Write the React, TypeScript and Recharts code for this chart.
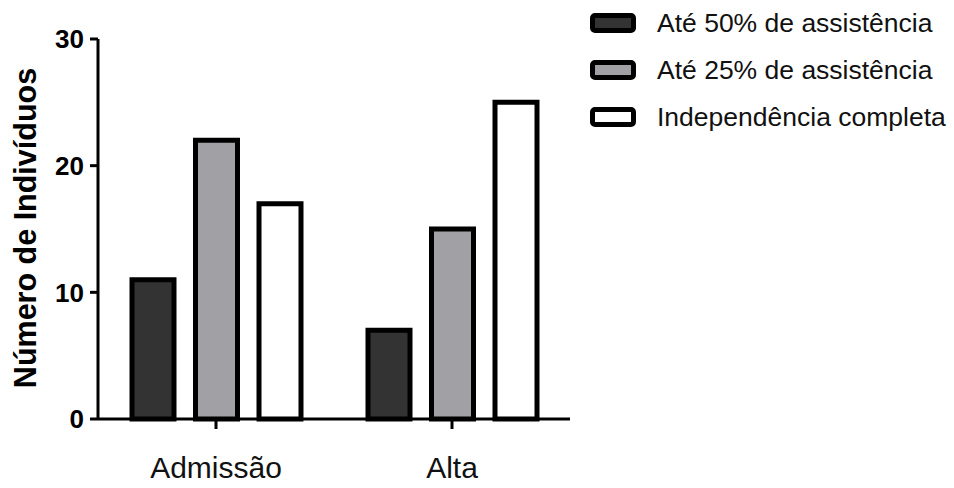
import React from 'react';
import { BarChart, Bar, XAxis, YAxis } from 'recharts';

const categories = ['Admissão', 'Alta'];
const ate50 = [11, 7];
const ate25 = [22, 15];
const independencia = [17, 25];
const seriesNames = ['Até 50% de assistência', 'Até 25% de assistência', 'Independência completa'];
const yTicks = [0, 10, 20, 30];

const colors = ['#333333', '#A1A0A5', '#FFFFFF'];

const data = categories.map((c, i) => ({
  name: c,
  a50: ate50[i],
  a25: ate25[i],
  ind: independencia[i],
}));

const FONT = '"Liberation Sans", Arial, Helvetica, sans-serif';

const LegendBox = () => (
  <svg width={364} height={140} style={{ position: 'absolute', left: 590, top: 0 }}>
    {seriesNames.map((n, i) => {
      const cy = 23 + i * 47;
      return (
        <g key={n}>
          <rect x={2.5} y={cy - 7.5} width={41} height={15} rx={2.5} fill={colors[i]} stroke="#000" strokeWidth={5} />
          <text x={67} y={cy} dominantBaseline="central" fontSize={26.5} fontFamily={FONT} fill="#111">
            {n}
          </text>
        </g>
      );
    })}
  </svg>
);

const YLabel = (props: any) => {
  const vb = props.viewBox || { x: 0, y: 39, width: 98, height: 380 };
  const cx = 25;
  const cy = vb.y + vb.height / 2 - 1;
  return (
    <text
      x={cx}
      y={cy}
      transform={`rotate(-90, ${cx}, ${cy})`}
      textAnchor="middle"
      dominantBaseline="central"
      fontSize={30.5}
      fontWeight="bold"
      fontFamily={FONT}
      fill="#000"
    >
      Número de Indivíduos
    </text>
  );
};

export default function App() {
  return (
    <div style={{ position: 'absolute', left: 0, top: 0, width: 954, height: 488, background: '#fff' }}>
      <BarChart
        width={954}
        height={488}
        data={data}
        margin={{ top: 39, right: 384, bottom: 0, left: 0 }}
        barSize={42}
        barGap={21.5}
      >
        <XAxis
          dataKey="name"
          height={69}
          axisLine={{ stroke: '#000', strokeWidth: 3 }}
          tickLine={{ stroke: '#000', strokeWidth: 3 }}
          tickSize={10}
          tickMargin={28}
          tick={{ fill: '#111', fontSize: 30, fontFamily: FONT }}
        />
        <YAxis
          width={98}
          domain={[0, 30]}
          ticks={yTicks}
          interval={0}
          axisLine={{ stroke: '#000', strokeWidth: 3 }}
          tickLine={{ stroke: '#000', strokeWidth: 3 }}
          tickSize={8}
          tickMargin={6}
          tick={{ fill: '#000', fontSize: 26, fontWeight: 'bold', fontFamily: FONT }}
          label={<YLabel />}
        />
        <Bar dataKey="a50" name={seriesNames[0]} fill={colors[0]} stroke="#000" strokeWidth={5} isAnimationActive={false} />
        <Bar dataKey="a25" name={seriesNames[1]} fill={colors[1]} stroke="#000" strokeWidth={5} isAnimationActive={false} />
        <Bar dataKey="ind" name={seriesNames[2]} fill={colors[2]} stroke="#000" strokeWidth={5} isAnimationActive={false} />
      </BarChart>
      <LegendBox />
    </div>
  );
}
